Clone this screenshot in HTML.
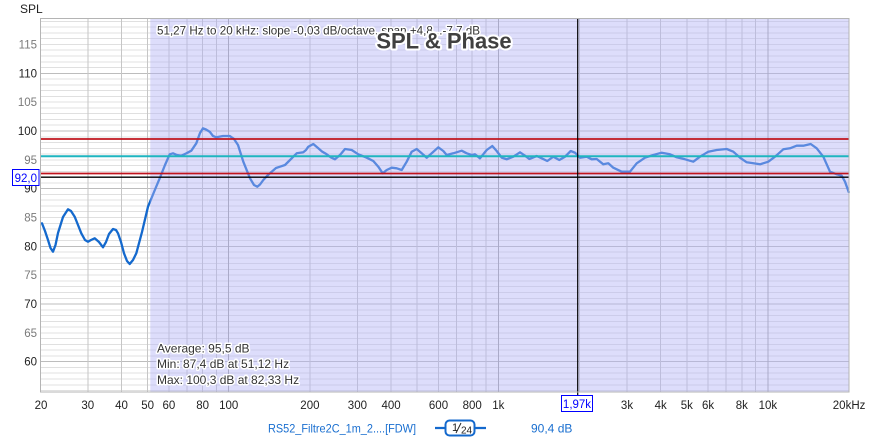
<!DOCTYPE html>
<html><head><meta charset="utf-8"><style>
html,body{margin:0;padding:0;background:#fff;}
svg{display:block;font-family:"Liberation Sans",sans-serif;}
.halo{paint-order:stroke;stroke:#fff;stroke-linejoin:round;}
</style></head><body>
<svg width="869" height="443" viewBox="0 0 869 443" xmlns="http://www.w3.org/2000/svg">
<rect x="0" y="0" width="869" height="443" fill="#fff"/>
<!-- minor horizontal grid -->
<path shape-rendering="crispEdges" stroke="#e0e0e0" stroke-width="1" fill="none" d="M40 390.5H849M40 384.8H849M40 379H849M40 373.2H849M40 367.5H849M40 355.9H849M40 350.2H849M40 344.4H849M40 338.6H849M40 332.9H849M40 327.1H849M40 321.3H849M40 315.6H849M40 309.8H849M40 298.3H849M40 292.5H849M40 286.7H849M40 281H849M40 275.2H849M40 269.4H849M40 263.6H849M40 257.9H849M40 252.1H849M40 240.6H849M40 234.8H849M40 229H849M40 223.3H849M40 217.5H849M40 211.7H849M40 206H849M40 200.2H849M40 194.4H849M40 182.9H849M40 177.1H849M40 171.4H849M40 165.6H849M40 159.8H849M40 154.1H849M40 148.3H849M40 142.5H849M40 136.8H849M40 125.2H849M40 119.4H849M40 113.7H849M40 107.9H849M40 102.1H849M40 96.4H849M40 90.6H849M40 84.8H849M40 79.1H849M40 67.5H849M40 61.8H849M40 56H849M40 50.2H849M40 44.5H849M40 38.7H849M40 32.9H849M40 27.2H849M40 21.4H849"/>
<!-- major horizontal grid -->
<path shape-rendering="crispEdges" stroke="#bdbdbd" stroke-width="1" fill="none" d="M40 361.7H849M40 304H849M40 246.3H849M40 188.7H849M40 131H849M40 73.3H849"/>
<!-- vertical grid -->
<path shape-rendering="crispEdges" stroke="#c6c6c6" stroke-width="1" fill="none" d="M87.8 18V392M121.5 18V392M147.6 18V392M168.9 18V392M187 18V392M202.6 18V392M216.4 18V392M309.9 18V392M357.4 18V392M391.1 18V392M417.2 18V392M438.5 18V392M456.6 18V392M472.2 18V392M486 18V392M579.5 18V392M627 18V392M660.7 18V392M686.8 18V392M708.1 18V392M726.2 18V392M741.8 18V392M755.6 18V392"/>
<path shape-rendering="crispEdges" stroke="#a4a4a4" stroke-width="1" fill="none" d="M228.7 18V392M498.3 18V392M767.9 18V392"/>
<!-- curve -->
<polyline fill="none" stroke="#1469cd" stroke-width="2.3" stroke-linejoin="round" stroke-linecap="round" points="42,223.3 45,231 48,240 50.5,248 53,251.7 55.5,245 58,233 63,217 68,209.3 71,211 74.7,216.7 78,225 81.3,233.3 85,240 88,241.7 91,240 94.7,238.3 99,242 103,247.3 106,242 109,234 113,229 116,230 118,233.3 121,242 124,253.3 127,261 129.7,264 133,260 136.3,253.3 142,232 148,206.7 154,192 159.7,178.3 165,165 169.7,154.3 173,153.3 177,155 181.3,155.7 186,153.5 191.3,150.7 196.3,143.3 200,133 203,128.3 206,129.5 209.7,131.7 213,136 216.3,137.3 223,136 229.7,136 234,139 238,145 243.3,161.7 250,178.3 254,185 257.3,186.7 260,184.5 263.3,180 267,176 271.7,171.7 276,168 280,166.7 285,165 288,162 291.7,158.3 296.7,153.3 303.3,152.3 306,150 308.3,146.7 313.3,144 318.3,148.3 322,151.5 326.7,154.3 331,157.5 335,159.3 340,155 345,149 351.7,150 358.3,154.3 366.7,157.7 373.3,161 378.3,166.7 382.7,173.3 386.7,170 391.7,167.7 396.7,168.3 401.7,170 406.7,161.7 411.7,151.7 416.7,149 421.7,153.3 426.7,157.7 431.7,153.3 438.3,147.3 443.3,151 446.7,155 453.3,153.3 461.7,150.7 466.7,153.3 471.7,155 475,154.3 480,158.3 486.7,150 492.3,146 496.7,151 501.7,157.7 506.7,159.3 513.3,156.7 520,152.3 525,155.7 529.3,159 536.7,156 541.7,158.3 547.3,161 553.3,156.7 559.3,160 565,156.7 570.7,151 575,152.7 580,157.7 586.7,156.7 591.7,159.3 596.7,159 603.3,164.3 608.3,163.3 613.3,167.7 621.7,171.7 630,171.7 636.7,163.3 645,157.7 653.3,155 661.7,152.7 670,154.3 676.7,157.3 685,159.3 693.3,161.7 700,156.7 708.3,151.7 716.7,150 726.7,149 733.3,151.7 740,157.7 746.7,162.3 760,164.3 768.3,161.7 775,156.7 783.3,149.3 790,148.3 796.7,145.7 803.3,145.7 810.7,144 816.7,148.3 823.3,156.7 830,171.7 836.7,174.3 841.7,175.7 845,181.7 848.7,192"/>
<!-- shaded overlay -->
<rect x="150.3" y="18.5" width="698.7" height="373.5" fill="rgb(178,178,246)" fill-opacity="0.443"/>
<!-- reference lines -->
<line x1="40" y1="139" x2="849" y2="139" stroke="#c0141e" stroke-width="1.7"/>
<line x1="40" y1="156.3" x2="849" y2="156.3" stroke="#1fb5c0" stroke-width="2"/>
<line x1="40" y1="173.5" x2="849" y2="173.5" stroke="#c0141e" stroke-width="1.7"/>
<line x1="40" y1="177.2" x2="849" y2="177.2" stroke="#000" stroke-width="1.4"/>
<!-- cursor -->
<line x1="577.7" y1="18" x2="577.7" y2="395" stroke="#000" stroke-width="1.2"/>
<!-- plot border -->
<rect x="40.5" y="18.5" width="808.5" height="373.5" fill="none" stroke="#b4b4b4" stroke-width="1"/>

<!-- slope text -->
<text class="halo" x="157" y="34.5" font-size="12" fill="#333" stroke-width="3" textLength="323" lengthAdjust="spacingAndGlyphs">51,27 Hz to 20 kHz: slope -0,03 dB/octave, span +4,8...-7,7 dB</text>
<!-- title -->
<text class="halo" x="444" y="48.5" font-size="22" font-weight="bold" fill="#404040" stroke-width="4" text-anchor="middle">SPL &amp; Phase</text>
<!-- stats -->
<text class="halo" x="157" y="352.5" font-size="12" fill="#333" stroke-width="3">Average: 95,5 dB</text>
<text class="halo" x="157" y="368" font-size="12" fill="#333" stroke-width="3">Min: 87,4 dB at 51,12 Hz</text>
<text class="halo" x="157" y="384" font-size="12" fill="#333" stroke-width="3">Max: 100,3 dB at 82,33 Hz</text>

<!-- axis title -->
<text x="20" y="13" font-size="12" fill="#222">SPL</text>
<!-- y labels -->
<g font-size="11.5" text-anchor="end">
<text x="37" y="48.5" fill="#7a7a7a">115</text>
<text x="37" y="77.3" fill="#222">110</text>
<text x="37" y="106.1" fill="#7a7a7a">105</text>
<text x="37" y="135" fill="#222">100</text>
<text x="37" y="163.8" fill="#7a7a7a">95</text>
<text x="37" y="192.7" fill="#222">90</text>
<text x="37" y="221.5" fill="#7a7a7a">85</text>
<text x="37" y="250.3" fill="#222">80</text>
<text x="37" y="279.2" fill="#7a7a7a">75</text>
<text x="37" y="308" fill="#222">70</text>
<text x="37" y="336.9" fill="#7a7a7a">65</text>
<text x="37" y="365.7" fill="#222">60</text>
</g>
<!-- 92,0 marker -->
<rect x="12.5" y="169.5" width="26.5" height="16" fill="#fff" stroke="#0000ff" stroke-width="1"/>
<text x="25.8" y="182" font-size="11.5" fill="#0000ff" text-anchor="middle">92,0</text>

<!-- x labels -->
<g font-size="11.5" fill="#222" text-anchor="middle">
<text x="41" y="409">20</text>
<text x="87.8" y="409">30</text>
<text x="121.5" y="409">40</text>
<text x="147.6" y="409">50</text>
<text x="168.9" y="409">60</text>
<text x="202.6" y="409">80</text>
<text x="228.7" y="409">100</text>
<text x="309.9" y="409">200</text>
<text x="357.4" y="409">300</text>
<text x="391.1" y="409">400</text>
<text x="438.5" y="409">600</text>
<text x="472.2" y="409">800</text>
<text x="498.3" y="409">1k</text>
<text x="627" y="409">3k</text>
<text x="660.7" y="409">4k</text>
<text x="686.8" y="409">5k</text>
<text x="708.1" y="409">6k</text>
<text x="741.8" y="409">8k</text>
<text x="767.9" y="409">10k</text>
<text x="849.1" y="409">20kHz</text>
</g>
<!-- cursor label -->
<rect x="561.5" y="395.5" width="31" height="16" fill="#fff" stroke="#0000ff" stroke-width="1"/>
<text x="577" y="408" font-size="11.5" fill="#0000ff" text-anchor="middle">1,97k</text>

<!-- legend -->
<text x="268" y="432.5" font-size="12" fill="#1a6fd0" textLength="148" lengthAdjust="spacingAndGlyphs">RS52_Filtre2C_1m_2....[FDW]</text>
<line x1="435" y1="428" x2="486" y2="428" stroke="#1469cd" stroke-width="2.3"/>
<rect x="445.5" y="420.5" width="29" height="15" rx="4" ry="4" fill="#fff" stroke="#1469cd" stroke-width="2"/>
<text x="452" y="431" font-size="11" fill="#222">1</text>
<line x1="456" y1="433" x2="461" y2="423" stroke="#222" stroke-width="1"/>
<text x="461" y="433.5" font-size="10" fill="#222">24</text>
<text x="531" y="432.5" font-size="12" fill="#1a6fd0">90,4 dB</text>
</svg>
</body></html>
